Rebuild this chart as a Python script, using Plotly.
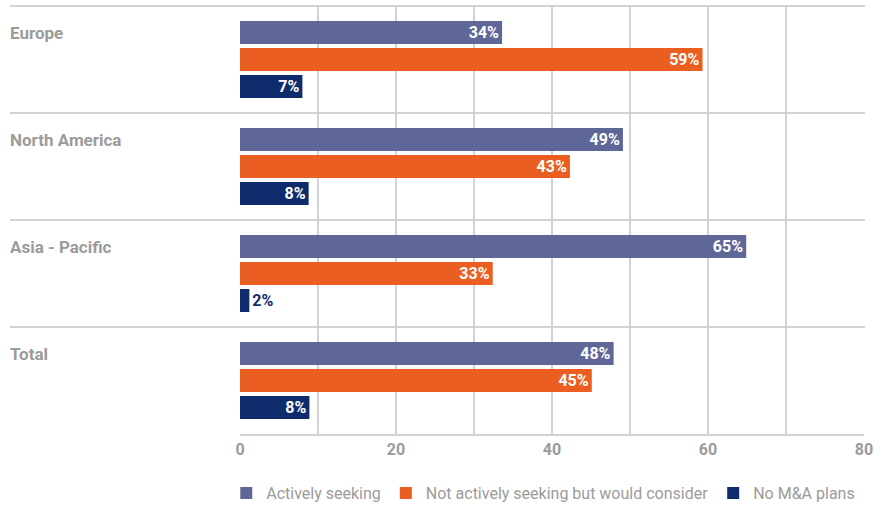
import plotly.graph_objects as go

regions = ["Europe", "North America", "Asia - Pacific", "Total"]
series_names = ["Actively seeking", "Not actively seeking but would consider", "No M&A plans"]
# bar lengths as drawn in the reference (percent)
actively_seeking = [33.6, 49.1, 64.9, 47.9]
would_consider = [59.3, 42.3, 32.4, 45.1]
no_plans = [8.0, 8.8, 1.2, 8.9]
# printed labels
actively_seeking_labels = ["34%", "49%", "65%", "48%"]
would_consider_labels = ["59%", "43%", "33%", "45%"]
no_plans_labels = ["7%", "8%", "2%", "8%"]
x_tick_vals = [0, 10, 20, 30, 40, 50, 60, 70, 80]
x_tick_text = ["0", "", "20", "", "40", "", "60", "", "80"]

colors = ["#5F6798", "#EB5E21", "#0E2C6C"]
grey = "#9B9B9B"
grid = "#D2D2D2"
FONT = "Roboto, Liberation Sans, sans-serif"

fig = go.Figure()
for name, vals, labels, col in zip(
        series_names,
        [actively_seeking, would_consider, no_plans],
        [actively_seeking_labels, would_consider_labels, no_plans_labels],
        colors):
    fig.add_trace(go.Bar(
        y=regions, x=vals, name=name, orientation="h",
        marker=dict(color=col, line=dict(width=0)),
        text=labels, texttemplate="%{text}", textposition="auto",
        insidetextanchor="end", constraintext="none",
        insidetextfont=dict(color="white", size=16, family=FONT, weight="bold"),
        outsidetextfont=dict(color=col, size=16, family=FONT, weight="bold"),
        cliponaxis=False, hoverinfo="skip",
    ))

shapes = []
for yy in [0.25, 0.5, 0.75, 1.0]:
    shapes.append(dict(type="line", xref="paper", yref="paper", x0=-0.3686, x1=1.0016,
                       y0=yy, y1=yy, line=dict(color=grid, width=2), layer="below"))

annotations = []
for r in regions:
    annotations.append(dict(x=-0.3718, xref="paper", xanchor="left", y=r, yref="y",
                            yanchor="middle", yshift=27, text=r, showarrow=False,
                            font=dict(family=FONT, size=17, color=grey, weight="bold")))

fig.update_layout(
    width=883, height=506,
    margin=dict(l=240, r=19, t=6, b=72, autoexpand=False),
    paper_bgcolor="white", plot_bgcolor="white",
    barmode="group", bargap=0.243, bargroupgap=0.148,
    shapes=shapes, annotations=annotations,
    font=dict(family=FONT, color=grey),
    xaxis=dict(range=[0, 80], tickvals=x_tick_vals, ticktext=x_tick_text,
               showgrid=True, gridcolor=grid, gridwidth=1.5, zeroline=False,
               showline=True, linecolor=grid, linewidth=2,
               tickfont=dict(family=FONT, size=16, color=grey, weight="bold"),
               fixedrange=True),
    yaxis=dict(autorange="reversed", showticklabels=False, showgrid=False,
               zeroline=False, fixedrange=True),
    legend=dict(orientation="h", x=-0.022, xanchor="left", y=-0.138, yanchor="middle",
                font=dict(family=FONT, size=16, color=grey),
                traceorder="normal", itemclick=False, itemdoubleclick=False),
    showlegend=True,
)

fig.write_html("out.html")
